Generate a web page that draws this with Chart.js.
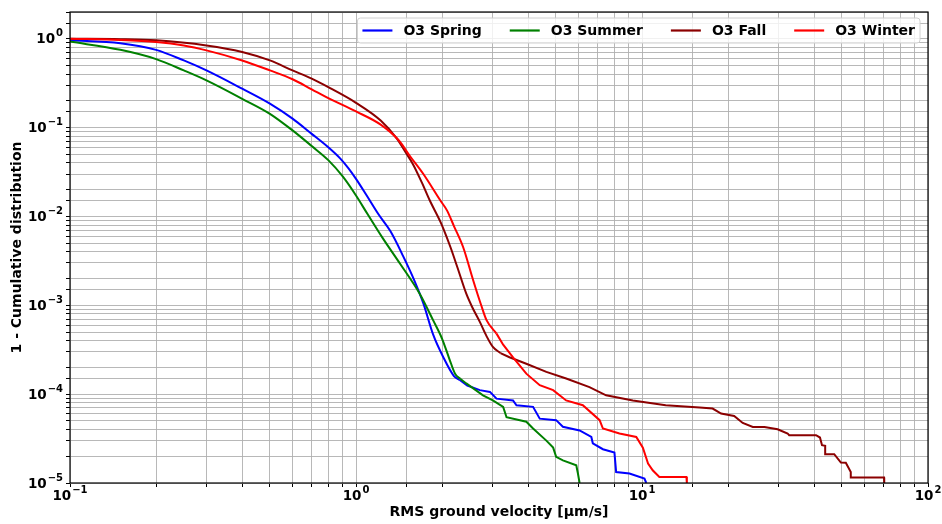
<!DOCTYPE html>
<html lang="en">
<head>
<meta charset="UTF-8">
<title>O3 RMS ground velocity</title>
<script src="https://cdn.jsdelivr.net/npm/chart.js"></script>
<style>
  html, body { margin: 0; padding: 0; background: #fff; }
  #wrap { width: 942px; height: 524px; }
</style>
</head>
<body>
<div id="wrap"><canvas id="cdf"></canvas></div>
<script>
// ticks (labels are 10 to the power of these)
const xTickValues = [0.1, 1, 10, 100];
const xTickExps = ['−1', '0', '1', '2'];
const yTickValues = [1e-5, 1e-4, 1e-3, 1e-2, 1e-1, 1];
const yTickExps = ['−5', '−4', '−3', '−2', '−1', '0'];

const seriesNames = ['O3 Spring', 'O3 Summer', 'O3 Fall', 'O3 Winter'];

// values (x = RMS velocity in um/s, y = 1 - CDF)
const springX = [0.1, 0.15, 0.2, 0.25, 0.3, 0.4, 0.5, 0.6, 0.7, 0.8, 0.88, 0.94, 1.0, 1.09, 1.2, 1.32, 1.46, 1.6, 1.72, 1.86, 2.02, 2.2, 2.3, 2.45, 2.71, 2.94, 3.10, 3.54, 3.64, 4.16, 4.39, 5.01, 5.29, 6.05, 6.65, 6.73, 7.30, 8.01, 8.12, 9.04, 10.2, 10.35];
const springY = [0.96, 0.89, 0.75, 0.57, 0.44, 0.274, 0.186, 0.126, 0.085, 0.06, 0.045, 0.035, 0.0265, 0.0172, 0.0105, 0.0068, 0.0036, 0.0019, 0.00105, 0.00047, 0.00026, 0.00016, 0.000145, 0.000125, 0.000111, 0.000106, 0.000089, 0.000085, 0.000075, 0.000072, 0.000053, 0.000051, 0.000043, 0.000039, 0.000033, 0.000028, 0.000024, 0.000022, 0.0000133, 0.0000128, 0.0000112, 0.00001];

const summerX = [0.1, 0.15, 0.2, 0.25, 0.3, 0.4, 0.5, 0.6, 0.7, 0.8, 0.9, 1.0, 1.1, 1.24, 1.43, 1.67, 1.86, 2.0, 2.12, 2.22, 2.32, 2.43, 2.78, 3.01, 3.27, 3.36, 3.94, 4.16, 4.63, 4.89, 5.01, 5.29, 5.89, 5.97, 6.05];
const summerY = [0.93, 0.75, 0.59, 0.44, 0.34, 0.211, 0.143, 0.093, 0.062, 0.043, 0.028, 0.0172, 0.0105, 0.0057, 0.0029, 0.00135, 0.00068, 0.00042, 0.00025, 0.00017, 0.000148, 0.000132, 0.000097, 0.000085, 0.000072, 0.000055, 0.000049, 0.000041, 0.00003, 0.000025, 0.0000197, 0.000018, 0.0000158, 0.0000128, 0.00001];

const fallX = [0.1, 0.15, 0.2, 0.3, 0.4, 0.5, 0.6, 0.7, 0.8, 1.0, 1.22, 1.39, 1.5, 1.58, 1.7, 1.81, 1.97, 2.02, 2.14, 2.26, 2.43, 2.55, 2.71, 2.86, 3.01, 3.2, 3.44, 3.94, 4.63, 5.43, 6.55, 7.49, 9.29, 12.1, 15.9, 17.66, 18.9, 21.0, 22.5, 24.4, 26.8, 29.8, 32.3, 32.7, 40.6, 41.9, 42.6, 43.7, 43.7, 47.0, 49.6, 51.6, 53.7, 53.7, 70.2, 70.3];
const fallY = [1.0, 0.99, 0.96, 0.84, 0.71, 0.57, 0.44, 0.355, 0.285, 0.19, 0.12, 0.075, 0.051, 0.039, 0.024, 0.0152, 0.0088, 0.0073, 0.0045, 0.0027, 0.00135, 0.00095, 0.00065, 0.00045, 0.00034, 0.00029, 0.00026, 0.00022, 0.000178, 0.00015, 0.00012, 0.000097, 0.000085, 0.000075, 0.0000707, 0.0000689, 0.0000605, 0.0000569, 0.0000474, 0.0000428, 0.0000428, 0.0000403, 0.0000361, 0.0000345, 0.0000345, 0.0000325, 0.0000266, 0.0000262, 0.0000211, 0.0000211, 0.000017, 0.0000169, 0.0000133, 0.0000115, 0.0000115, 0.00001];

const winterX = [0.1, 0.15, 0.2, 0.25, 0.3, 0.4, 0.5, 0.6, 0.7, 0.8, 1.0, 1.22, 1.41, 1.55, 1.72, 1.97, 2.08, 2.2, 2.37, 2.57, 2.74, 2.86, 3.10, 3.27, 3.54, 3.94, 4.39, 4.89, 5.43, 6.21, 7.11, 7.30, 8.34, 9.55, 10.07, 10.5, 10.9, 11.5, 14.3, 14.35];
const winterY = [1.0, 0.97, 0.92, 0.84, 0.74, 0.57, 0.44, 0.35, 0.27, 0.215, 0.152, 0.108, 0.072, 0.047, 0.03, 0.0152, 0.0117, 0.0078, 0.0045, 0.0019, 0.001, 0.00068, 0.00048, 0.00036, 0.00026, 0.00017, 0.000126, 0.000111, 0.000085, 0.000075, 0.000051, 0.000041, 0.000036, 0.000033, 0.000025, 0.0000166, 0.0000139, 0.0000117, 0.0000117, 0.00001];

// where each curve stops being smooth and turns into a staircase
const stairFrom = [2.3, 2.32, 3.2, 3.10];

const seriesColors = ['#0000ff', '#008000', '#8b0000', '#ff0000'];

function pts(xs, ys) {
    return xs.map((x, i) => ({ x: x, y: ys[i] }));
}

Chart.defaults.font.family = '"DejaVu Sans", sans-serif';
Chart.defaults.font.weight = 'bold';
Chart.defaults.color = '#000';

// black frame round the plot area, like matplotlib spines
const frame = {
    id: 'frame',
    afterDraw(chart) {
        const a = chart.chartArea, ctx = chart.ctx;
        ctx.save();
        ctx.strokeStyle = '#000';
        ctx.lineWidth = 1.2;
        ctx.strokeRect(a.left, a.top, a.right - a.left, a.bottom - a.top);
        ctx.restore();
    }
};

// "10" with a raised exponent, placed with the scales' own pixel mapping
function powerLabel(ctx, exp, x, y, align) {
    ctx.font = 'bold 13.5px "DejaVu Sans"';
    const wBase = ctx.measureText('10').width;
    ctx.font = 'bold 10px "DejaVu Sans"';
    const wExp = ctx.measureText(exp).width;
    const w = wBase + 1 + wExp;
    let left = align === 'right' ? x - w : x - w / 2;
    ctx.textBaseline = 'middle';
    ctx.textAlign = 'left';
    ctx.font = 'bold 13.5px "DejaVu Sans"';
    ctx.fillText('10', left, y);
    ctx.font = 'bold 10px "DejaVu Sans"';
    ctx.fillText(exp, left + wBase + 1, y - 6);
}

const powerTicks = {
    id: 'powerTicks',
    afterDraw(chart) {
        const ctx = chart.ctx;
        const xs = chart.scales.x, ys = chart.scales.y;
        ctx.save();
        ctx.fillStyle = '#000';
        xTickValues.forEach((v, i) => {
            powerLabel(ctx, xTickExps[i], xs.getPixelForValue(v), xs.top + 13, 'center');
        });
        yTickValues.forEach((v, i) => {
            powerLabel(ctx, yTickExps[i], ys.right - 7, ys.getPixelForValue(v) + 1, 'right');
        });
        ctx.restore();
    }
};

// legend drawn inside the axes, top right
const insideLegend = {
    id: 'insideLegend',
    afterDraw(chart) {
        const ctx = chart.ctx, a = chart.chartArea;
        ctx.save();
        ctx.font = 'bold 14px "DejaVu Sans"';
        const handle = 30, pad = 11, gap = 28;
        let total = 0;
        seriesNames.forEach((name, i) => {
            total += handle + pad + ctx.measureText(name).width;
            if (i < seriesNames.length - 1) total += gap;
        });
        const boxW = total + 10, boxH = 25;
        const left = a.right - 8 - boxW, top = a.top + 6;
        ctx.beginPath();
        ctx.roundRect(left, top, boxW, boxH, 3);
        ctx.fillStyle = 'rgba(255,255,255,0.8)';
        ctx.fill();
        ctx.strokeStyle = '#d0d0d0';
        ctx.lineWidth = 1;
        ctx.stroke();
        let x = left + 5;
        const y = top + boxH / 2;
        seriesNames.forEach((name, i) => {
            ctx.beginPath();
            ctx.moveTo(x, y);
            ctx.lineTo(x + handle, y);
            ctx.strokeStyle = seriesColors[i];
            ctx.lineWidth = 2.2;
            ctx.stroke();
            x += handle + pad;
            ctx.fillStyle = '#000';
            ctx.textBaseline = 'middle';
            ctx.fillText(name, x, y + 1);
            x += ctx.measureText(name).width + gap;
        });
        ctx.restore();
    }
};

const allX = [springX, summerX, fallX, winterX];
const allY = [springY, summerY, fallY, winterY];

// each series: smooth head (monotone) + staircase tail (straight segments)
const datasets = [];
seriesNames.forEach((name, i) => {
    const xs = allX[i], ys = allY[i];
    let k = xs.findIndex(v => v >= stairFrom[i] - 1e-9);
    if (k < 0) k = xs.length - 1;
    const common = {
        borderColor: seriesColors[i],
        backgroundColor: seriesColors[i],
        borderWidth: 2,
        pointRadius: 0,
        order: 4 - i
    };
    datasets.push(Object.assign({
        label: name,
        data: pts(xs.slice(0, k + 1), ys.slice(0, k + 1)),
        cubicInterpolationMode: 'monotone'
    }, common));
    datasets.push(Object.assign({
        label: name + ' tail',
        data: pts(xs.slice(k), ys.slice(k)),
        tension: 0
    }, common));
});

new Chart(document.getElementById('cdf'), {
    type: 'line',
    data: { datasets: datasets },
    options: {
        responsive: true,
        maintainAspectRatio: false,
        animation: false,
        layout: { padding: { top: 12, right: 14, left: 0, bottom: 0 } },
        plugins: {
            legend: { display: false },
            tooltip: { enabled: false }
        },
        scales: {
            x: {
                type: 'logarithmic',
                min: 0.1,
                max: 100,
                afterFit(scale) { scale.height = 41; },
                border: { display: false },
                grid: {
                    color: '#b0b0b0',
                    lineWidth: 0.9,
                    tickLength: 4,
                    tickColor: '#000',
                    tickWidth: 1
                },
                ticks: {
                    autoSkip: false,
                    maxRotation: 0,
                    callback: () => ''
                },
                title: {
                    display: true,
                    text: 'RMS ground velocity [μm/s]',
                    font: { size: 14, weight: 'bold' },
                    padding: { top: 0, bottom: 3 }
                }
            },
            y: {
                type: 'logarithmic',
                min: 1e-5,
                max: 2,
                afterFit(scale) { scale.width = 70; },
                border: { display: false },
                grid: {
                    color: '#b0b0b0',
                    lineWidth: 0.9,
                    tickLength: 4,
                    tickColor: '#000',
                    tickWidth: 1
                },
                ticks: {
                    autoSkip: false,
                    callback: () => ''
                },
                title: {
                    display: true,
                    text: '1 - Cumulative distribution',
                    font: { size: 14, weight: 'bold' },
                    padding: { top: 9, bottom: 0 }
                }
            }
        }
    },
    plugins: [frame, powerTicks, insideLegend]
});
</script>
</body>
</html>
